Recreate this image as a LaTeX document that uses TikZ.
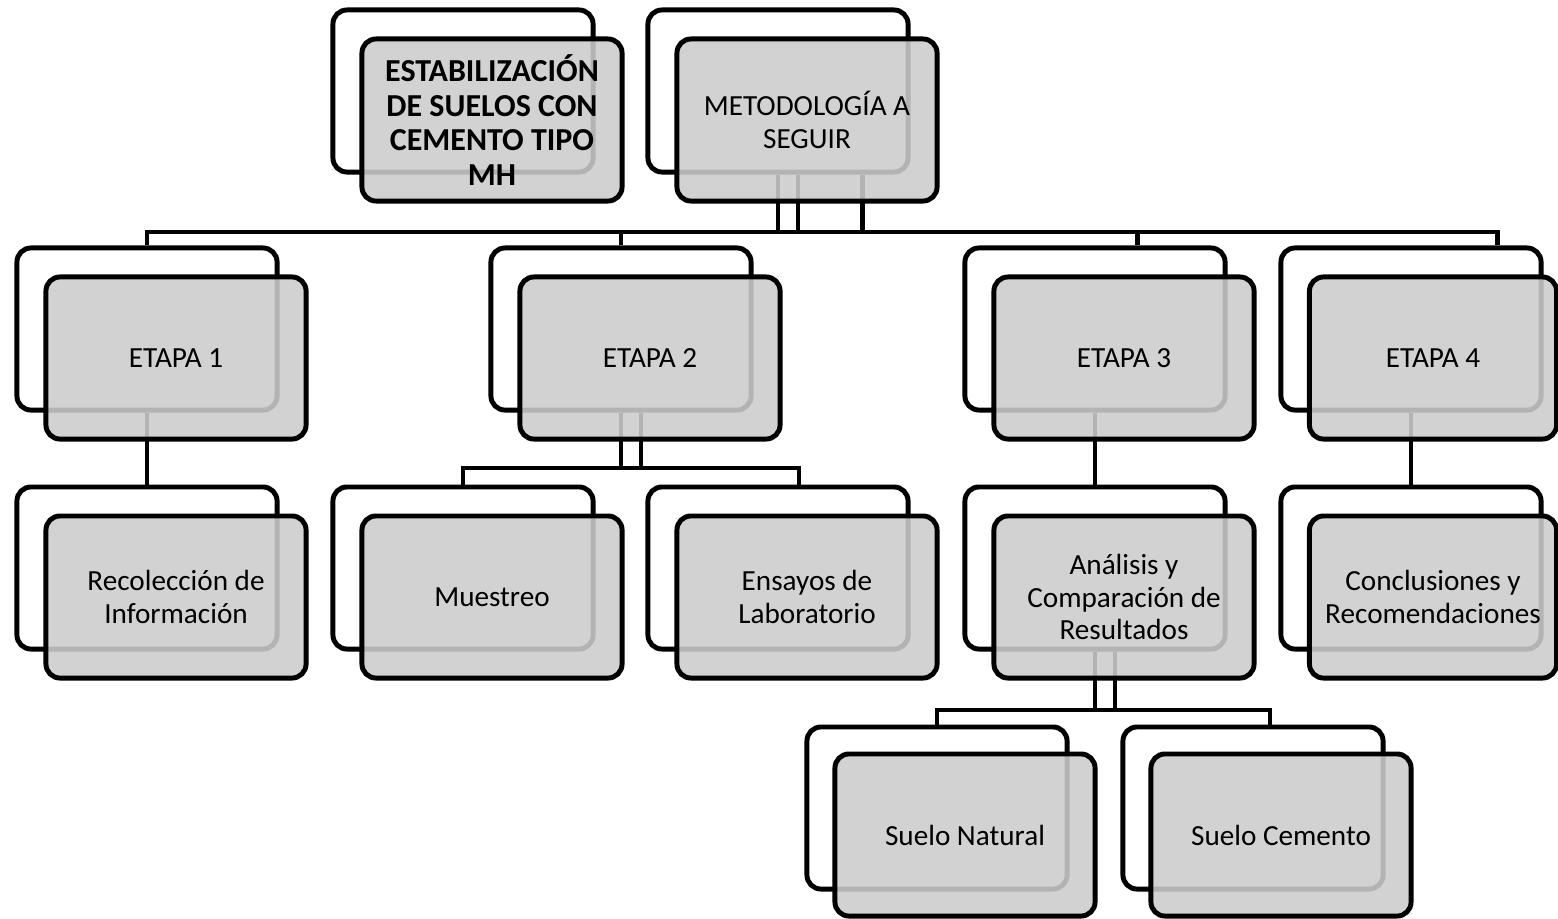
\documentclass[tikz,border=0pt]{standalone}
\usepackage{fontspec}
\setmainfont{Carlito}
\usetikzlibrary{positioning,calc}

\begin{document}
\begin{tikzpicture}[
  x=0.01cm, y=-0.01cm,
  font=\fontsize{8.3}{9.2}\selectfont,
  back/.style={draw, line width=1.4pt, rounded corners=4pt, fill=white, minimum width=2.6cm, minimum height=1.62cm},
  box/.style={draw, line width=1.4pt, rounded corners=4pt, fill=black!20, fill opacity=0.88, text opacity=1, align=center, inner sep=1pt, minimum width=2.6cm, minimum height=1.62cm},
  link/.style={line width=1.4pt}
]
\useasboundingbox (0,0) rectangle (1558,918);
% back boxes
\node[back] (top1b) at (463,91) {};
\node[back] (top2b) at (778,91) {};
\node[back] (etapa1b) at (147,329) {};
\node[back] (etapa2b) at (621,329) {};
\node[back] (etapa3b) at (1095,329) {};
\node[back] (etapa4b) at (1411,329) {};
\node[back] (recb) at (147,568) {};
\node[back] (muestreob) at (463,568) {};
\node[back] (ensayosb) at (778,568) {};
\node[back] (analisisb) at (1095,568) {};
\node[back] (conclb) at (1411,568) {};
\node[back] (naturalb) at (937,808) {};
\node[back] (cementob) at (1253,808) {};
% connectors
\coordinate (bus1) at (0,232);
\coordinate (bus2) at (0,468);
\coordinate (bus3) at (0,710);
\draw[link] (top2b.south) -- (top2b.south |- bus1);
\draw[link] ([xshift=0.2cm]top2b.south) -- ([xshift=0.2cm]top2b.south |- bus1);
\draw[link] ([xshift=0.84cm]top2b.south) -- ([xshift=0.84cm]top2b.south |- bus1);
\draw[link] (etapa1b.north) |- ([xshift=0.86cm]etapa4b.north |- bus1) -- ([xshift=0.86cm]etapa4b.north);
\draw[link] (etapa2b.north |- bus1) -- (etapa2b.north);
\draw[link] ([xshift=0.42cm]etapa3b.north |- bus1) -- ([xshift=0.42cm]etapa3b.north);
\draw[link] (etapa1b.south) -- (recb.north);
\draw[link] (etapa2b.south) -- (etapa2b.south |- bus2);
\draw[link] ([xshift=0.2cm]etapa2b.south) -- ([xshift=0.2cm]etapa2b.south |- bus2);
\draw[link] (muestreob.north) |- ([xshift=0.21cm]ensayosb.north |- bus2) -- ([xshift=0.21cm]ensayosb.north);
\draw[link] (etapa3b.south) -- (analisisb.north);
\draw[link] (etapa4b.south) -- (conclb.north);
\draw[link] (analisisb.south) -- (analisisb.south |- bus3);
\draw[link] ([xshift=0.2cm]analisisb.south) -- ([xshift=0.2cm]analisisb.south |- bus3);
\draw[link] (naturalb.north) |- ([xshift=0.17cm]cementob.north |- bus3) -- ([xshift=0.17cm]cementob.north);
% front boxes
\node[box, font=\fontsize{9.1}{9.8}\selectfont\bfseries] (top1) at ([shift={(29,29)}]top1b) {ESTABILIZACIÓN\\DE SUELOS CON\\CEMENTO TIPO\\MH};
\node[box] (top2) at ([shift={(29,29)}]top2b) {METODOLOGÍA A\\SEGUIR};
\node[box] (etapa1) at ([shift={(29,29)}]etapa1b) {ETAPA 1};
\node[box] (etapa2) at ([shift={(29,29)}]etapa2b) {ETAPA 2};
\node[box] (etapa3) at ([shift={(29,29)}]etapa3b) {ETAPA 3};
\node[box, minimum width=2.47cm] (etapa4) at ([shift={(22,29)}]etapa4b) {ETAPA 4};
\node[box] (rec) at ([shift={(29,29)}]recb) {Recolección de\\Información};
\node[box] (muestreo) at ([shift={(29,29)}]muestreob) {Muestreo};
\node[box] (ensayos) at ([shift={(29,29)}]ensayosb) {Ensayos de\\Laboratorio};
\node[box] (analisis) at ([shift={(29,29)}]analisisb) {Análisis y\\Comparación de\\Resultados};
\node[box, minimum width=2.47cm] (concl) at ([shift={(22,29)}]conclb) {Conclusiones y\\Recomendaciones};
\node[box] (natural) at ([shift={(28,27)}]naturalb) {Suelo Natural};
\node[box] (cemento) at ([shift={(28,27)}]cementob) {Suelo Cemento};
\end{tikzpicture}
\end{document}
